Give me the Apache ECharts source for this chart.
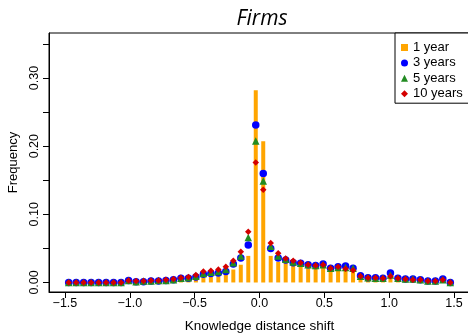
<!DOCTYPE html>
<html>
<head>
<meta charset="utf-8">
<script src="https://cdn.jsdelivr.net/npm/echarts@6/dist/echarts.min.js"></script>
<style>
html,body{margin:0;padding:0;background:#fff;}
#c{width:468px;height:335px;}
</style>
</head>
<body>
<div id="c"></div>
<script>
// Bin centres (knowledge distance shift)
var binCenters = [-1.4712,-1.4135,-1.3558,-1.2981,-1.2404,-1.1827,-1.1250,-1.0673,-1.0096,-0.9519,
  -0.8942,-0.8365,-0.7788,-0.7212,-0.6635,-0.6058,-0.5481,-0.4904,-0.4327,-0.3750,
  -0.3173,-0.2596,-0.2019,-0.1442,-0.0865,-0.0288,0.0288,0.0865,0.1442,0.2019,
  0.2596,0.3173,0.3750,0.4327,0.4904,0.5481,0.6058,0.6635,0.7212,0.7788,
  0.8365,0.8942,0.9519,1.0096,1.0673,1.1250,1.1827,1.2404,1.2981,1.3558,
  1.4135,1.4712];

var year1 = [0,0,0,0,0,0,0,0,0.001,0,
  0,0.001,0.001,0.001,0.001,0.003,0.004,0.005,0.007,0.008,
  0.009,0.017,0.019,0.026,0.039,0.282,0.207,0.039,0.030,0.029,
  0.026,0.025,0.021,0.021,0.024,0.018,0.019,0.019,0.018,0.007,
  0.005,0.005,0.005,0.008,0.004,0.003,0.003,0.003,0.001,0.001,
  0.003,0];

var years3 = [0,0,0,0,0,0,0,0,0.003,0.001,
  0.001,0.002,0.002,0.003,0.004,0.006,0.006,0.008,0.012,0.013,
  0.014,0.016,0.027,0.036,0.055,0.231,0.160,0.050,0.036,0.033,
  0.029,0.028,0.026,0.025,0.027,0.021,0.023,0.024,0.021,0.010,
  0.007,0.007,0.006,0.014,0.006,0.005,0.005,0.004,0.002,0.002,
  0.005,0];

var years5 = [0,0,0,0,0,0,0,0,0.003,0.001,
  0.002,0.002,0.003,0.003,0.004,0.006,0.007,0.009,0.013,0.015,
  0.016,0.019,0.029,0.039,0.066,0.2075,0.149,0.053,0.039,0.034,
  0.030,0.028,0.026,0.025,0.026,0.021,0.022,0.022,0.021,0.009,
  0.007,0.006,0.006,0.011,0.006,0.005,0.005,0.004,0.002,0.002,
  0.004,0];

var years10 = [0,0,0,0,0,0,0,0,0.003,0.002,
  0.002,0.003,0.003,0.004,0.005,0.007,0.008,0.011,0.016,0.017,
  0.019,0.023,0.032,0.045,0.0745,0.176,0.136,0.058,0.043,0.035,
  0.032,0.029,0.026,0.025,0.026,0.021,0.023,0.020,0.018,0.009,
  0.007,0.007,0.006,0.009,0.006,0.005,0.004,0.004,0.002,0.002,
  0.004,0];

var xTicks = [-1.5,-1.0,-0.5,0.0,0.5,1.0,1.5];
var yTicks = [0,0.05,0.10,0.15,0.20,0.25,0.30,0.35];
var yLabels = [0,0.10,0.20,0.30];
var seriesNames = ['1 year','3 years','5 years','10 years'];

function pairs(vals){ return binCenters.map(function(x,i){ return [x, vals[i]]; }); }

var FONT = 'Liberation Sans, Arial, sans-serif';
var chart = echarts.init(document.getElementById('c'), null, {renderer:'canvas'});
chart.setOption({
  animation:false,
  backgroundColor:'#fff',
  title:{
    text:'Firms', left:257, top:4, textAlign:'center',
    textStyle:{fontFamily:'Open Sans', fontStyle:'italic', fontWeight:'normal', fontSize:21, color:'#000'}
  },
  grid:{left:49, right:-2, top:33, bottom:43, show:true, borderColor:'#000', borderWidth:1, containLabel:false, outerBoundsMode:'none'},
  legend:{
    orient:'vertical', left:395, top:33, padding:[8,40,3,6], itemGap:2.4,
    itemWidth:7, itemHeight:7, borderColor:'#000', borderWidth:1, borderRadius:0,
    backgroundColor:'#fff',
    textStyle:{fontFamily:FONT, fontSize:13, color:'#000', lineHeight:12},
    data:[
      {name:'1 year', icon:'rect'},
      {name:'3 years', icon:'circle'},
      {name:'5 years', icon:'triangle'},
      {name:'10 years', icon:'diamond'}
    ]
  },
  xAxis:{
    type:'value', min:-1.623, max:1.623,
    name:'Knowledge distance shift', nameLocation:'middle', nameGap:27,
    nameTextStyle:{fontFamily:FONT, fontSize:13.5, color:'#000'},
    axisLine:{show:true, onZero:false, lineStyle:{color:'#000', width:1}},
    axisTick:{show:true, length:6, lineStyle:{color:'#000'}, customValues:xTicks},
    axisLabel:{show:true, margin:5, fontFamily:FONT, fontSize:12.5, color:'#000', customValues:xTicks,
      formatter:function(v){ return (v<0?'\u2212':'') + Math.abs(v).toFixed(1); }},
    splitLine:{show:false}
  },
  yAxis:{
    type:'value', min:-0.014, max:0.366,
    name:'Frequency', nameLocation:'middle', nameGap:28,
    nameTextStyle:{fontFamily:FONT, fontSize:13, color:'#000'},
    axisLine:{show:true, onZero:false, lineStyle:{color:'#000', width:1}},
    axisTick:{show:true, length:6, lineStyle:{color:'#000'}, customValues:yTicks},
    axisLabel:{show:true, margin:8, rotate:90, fontFamily:FONT, fontSize:12.5, color:'#000', customValues:yLabels,
      formatter:function(v){ return v.toFixed(2); }},
    splitLine:{show:false}
  },
  series:[
    {name:seriesNames[0], type:'bar', data:pairs(year1), barWidth:4, itemStyle:{color:'#FFA500', opacity:1}, z:1},
    {name:seriesNames[1], type:'scatter', data:pairs(years3), symbol:'circle', symbolSize:7.5, itemStyle:{color:'#0000FF', opacity:1}, z:2},
    {name:seriesNames[2], type:'scatter', data:pairs(years5), symbol:'triangle', symbolSize:7.5, itemStyle:{color:'#228B22', opacity:1}, z:3},
    {name:seriesNames[3], type:'scatter', data:pairs(years10), symbol:'diamond', symbolSize:6.5, itemStyle:{color:'#D40000', opacity:1}, z:4}
  ]
});
</script>
</body>
</html>
